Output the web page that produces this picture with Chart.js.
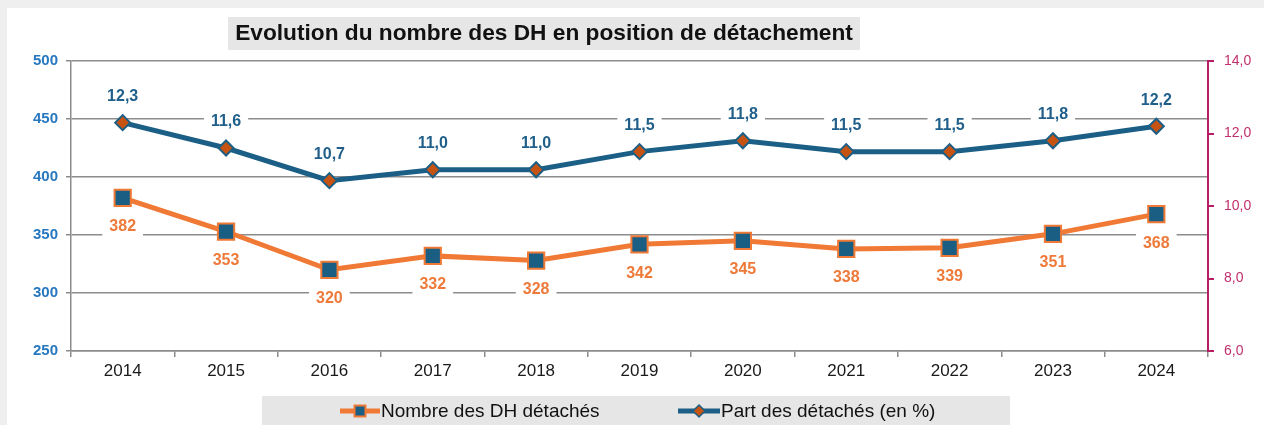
<!DOCTYPE html>
<html>
<head>
<meta charset="utf-8">
<script src="https://cdn.jsdelivr.net/npm/chart.js@4/dist/chart.umd.min.js"></script>
<style>
html,body{margin:0;padding:0;background:#efefef;overflow:hidden;}
#c{display:block;}
</style>
</head>
<body>
<canvas id="c" width="1264" height="425"></canvas>
<script>
const years = ['2014','2015','2016','2017','2018','2019','2020','2021','2022','2023','2024'];
const nombreDH = [382, 353, 320, 332, 328, 342, 345, 338, 339, 351, 368];
const partDetaches = [12.3, 11.6, 10.7, 11.0, 11.0, 11.5, 11.8, 11.5, 11.5, 11.8, 12.2];
const seriesNames = ['Nombre des DH détachés', 'Part des détachés (en %)'];
const titleText = 'Evolution du nombre des DH en position de détachement';

const W = 1264, H = 425;
const FONT = '"Liberation Sans", Arial, sans-serif';
const ORANGE = '#f07a35';
const BLUE = '#1c5f86';
const DIAMOND = '#c65312';
const GRID = '#8c8c8c';
const MAGENTA = '#b81c64';

const fmtPct = v => Number(v).toFixed(1).replace('.', ',');

const bgPlugin = {
  id: 'bg',
  beforeDraw(chart) {
    const c = chart.ctx;
    c.save();
    c.fillStyle = '#efefef';
    c.fillRect(0, 0, W, H);
    c.fillStyle = '#ffffff';
    c.fillRect(7, 8, W - 7, H - 8);
    c.restore();
  }
};

const titlePlugin = {
  id: 'titleBox',
  afterDraw(chart) {
    const c = chart.ctx;
    c.save();
    c.fillStyle = '#e6e6e6';
    c.fillRect(228, 17, 632, 33);
    c.fillStyle = '#111111';
    c.font = 'bold 22.7px ' + FONT;
    c.textAlign = 'center';
    c.textBaseline = 'middle';
    c.fillText(titleText, 544, 34);
    c.restore();
  }
};

const labelPlugin = {
  id: 'valueLabels',
  afterDatasetsDraw(chart) {
    const c = chart.ctx;
    c.save();
    c.font = 'bold 16px ' + FONT;
    c.textAlign = 'center';
    c.textBaseline = 'middle';
    chart.data.datasets.forEach((ds, i) => {
      const meta = chart.getDatasetMeta(i);
      meta.data.forEach((pt, j) => {
        const v = ds.data[j];
        const txt = i === 0 ? String(v) : fmtPct(v);
        const ly = i === 0 ? pt.y + 28 : pt.y - 27;
        const tw = c.measureText(txt).width;
        c.fillStyle = '#ffffff';
        c.fillRect(pt.x - tw / 2 - 7, ly - 12, tw + 14, 24);
        c.fillStyle = i === 0 ? '#ee7a3a' : '#1f5f8a';
        c.fillText(txt, pt.x, ly + 1);
      });
    });
    c.restore();
  }
};

const legendPlugin = {
  id: 'customLegend',
  afterDraw(chart) {
    const c = chart.ctx;
    c.save();
    c.fillStyle = '#e6e6e6';
    c.fillRect(262, 396, 748, 29);
    const y = 411;
    c.strokeStyle = ORANGE; c.lineWidth = 5;
    c.beginPath(); c.moveTo(340, y); c.lineTo(380, y); c.stroke();
    c.fillStyle = '#1b5e84'; c.fillRect(354.5, y - 5.5, 11, 11);
    c.strokeStyle = ORANGE; c.lineWidth = 2; c.strokeRect(354.5, y - 5.5, 11, 11);
    c.strokeStyle = BLUE; c.lineWidth = 5;
    c.beginPath(); c.moveTo(678, y); c.lineTo(720, y); c.stroke();
    c.fillStyle = DIAMOND; c.strokeStyle = BLUE; c.lineWidth = 1.5;
    c.beginPath(); c.moveTo(699, y - 6); c.lineTo(705, y); c.lineTo(699, y + 6); c.lineTo(693, y); c.closePath();
    c.fill(); c.stroke();
    c.fillStyle = '#111111';
    c.font = '19px ' + FONT;
    c.textAlign = 'left';
    c.textBaseline = 'middle';
    c.fillText(seriesNames[0], 381, y + 1);
    c.fillText(seriesNames[1], 721, y + 1);
    c.restore();
  }
};

new Chart(document.getElementById('c'), {
  type: 'line',
  data: {
    labels: years,
    datasets: [
      {
        label: seriesNames[0],
        data: nombreDH,
        yAxisID: 'y',
        borderColor: ORANGE,
        borderWidth: 5,
        pointStyle: 'rect',
        pointRadius: 11.5,
        pointBackgroundColor: '#1b5e84',
        pointBorderColor: ORANGE,
        pointBorderWidth: 2,
        tension: 0,
        fill: false
      },
      {
        label: seriesNames[1],
        data: partDetaches,
        yAxisID: 'y1',
        borderColor: BLUE,
        borderWidth: 5,
        pointStyle: 'rectRot',
        pointRadius: 7.5,
        pointBackgroundColor: DIAMOND,
        pointBorderColor: BLUE,
        pointBorderWidth: 2,
        tension: 0,
        fill: false
      }
    ]
  },
  options: {
    responsive: false,
    animation: false,
    devicePixelRatio: 1,
    layout: { padding: { top: 61, bottom: 44, left: 0, right: 0 } },
    plugins: {
      legend: { display: false },
      title: { display: false },
      tooltip: { enabled: false }
    },
    scales: {
      x: {
        type: 'category',
        offset: true,
        grid: { offset: true, drawOnChartArea: false, drawTicks: true, tickLength: 6, color: GRID, lineWidth: 1.5 },
        border: { display: true, color: GRID, width: 1.5 },
        ticks: { color: '#1a1a1a', font: { family: FONT, size: 17 }, padding: 4, maxRotation: 0 },
        afterFit(s) { s.height = 30; }
      },
      y: {
        position: 'left',
        min: 250, max: 500,
        ticks: { stepSize: 50, color: '#2878c0', font: { family: FONT, size: 15, weight: 'bold' }, padding: 8 },
        grid: { color: GRID, lineWidth: 1.5, tickLength: 5 },
        border: { display: true, color: GRID, width: 1.5 },
        afterFit(s) { s.width = 71; }
      },
      y1: {
        position: 'right',
        min: 6, max: 14,
        ticks: { stepSize: 2, color: '#c0306e', font: { family: FONT, size: 14 }, padding: 10, callback: v => fmtPct(v) },
        grid: { drawOnChartArea: false, color: MAGENTA, lineWidth: 2, tickLength: 6 },
        border: { display: true, color: MAGENTA, width: 2 },
        afterFit(s) { s.width = 56; }
      }
    }
  },
  plugins: [bgPlugin, labelPlugin, titlePlugin, legendPlugin]
});
</script>
</body>
</html>
